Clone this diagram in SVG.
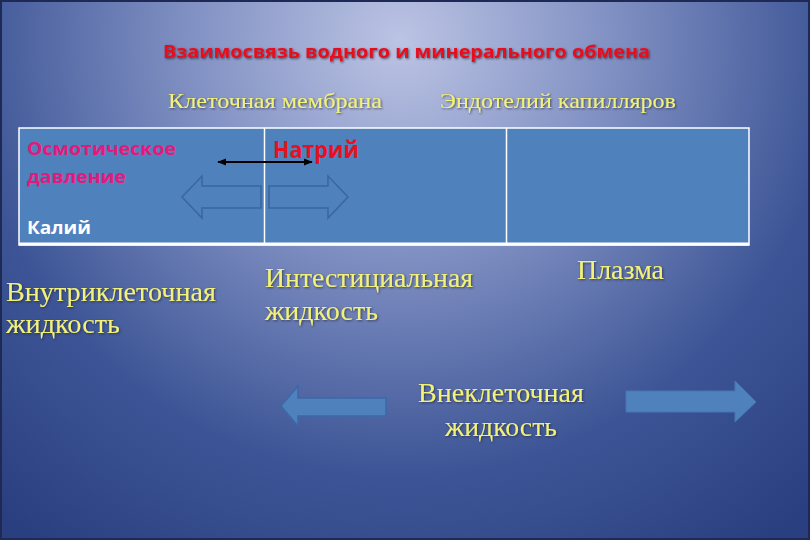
<svg xmlns="http://www.w3.org/2000/svg" width="810" height="540" viewBox="0 0 810 540">
<defs>
<radialGradient id="bg" cx="400" cy="40" r="620" gradientUnits="userSpaceOnUse">
<stop offset="0" stop-color="#bcc4e4"/>
<stop offset="0.35" stop-color="#7f8fc2"/>
<stop offset="0.7" stop-color="#3d5596"/>
<stop offset="1" stop-color="#2a3f80"/>
</radialGradient>
<filter id="sh" x="-5%" y="-20%" width="110%" height="150%">
<feDropShadow dx="1" dy="1" stdDeviation="0.8" flood-color="#202030" flood-opacity="0.7"/>
</filter>
<marker id="ah" viewBox="0 0 10 10" refX="9" refY="5" markerWidth="5" markerHeight="5" orient="auto-start-reverse">
<path d="M0,1 L10,5 L0,9 z" fill="#000"/>
</marker>
</defs>
<style>
.ser{font-family:"Liberation Serif","Times New Roman",serif;fill:#f2f27a;}
.sans{font-family:"Open Sans","Liberation Sans",sans-serif;font-weight:bold;}
</style>
<rect x="0" y="0" width="810" height="540" fill="url(#bg)"/>
<rect x="1" y="1" width="808" height="538" fill="none" stroke="#1e2a55" stroke-width="2"/>

<g id="title">
<text class="sans" x="163" y="58" font-size="17" fill="#e8101e" filter="url(#sh)" textLength="487" lengthAdjust="spacingAndGlyphs">Взаимосвязь водного и минерального обмена</text>
</g>
<g id="label-membrane">
<text class="ser" x="168" y="108" font-size="22" filter="url(#sh)" textLength="214" lengthAdjust="spacingAndGlyphs">Клеточная мембрана</text>
</g>
<g id="label-endothelium">
<text class="ser" x="440" y="108" font-size="22" filter="url(#sh)" textLength="236" lengthAdjust="spacingAndGlyphs">Эндотелий капилляров</text>
</g>

<g id="table">
<rect x="19" y="128" width="730" height="117" fill="#4f81bd" stroke="#ffffff" stroke-width="1.5"/>
<line x1="264.5" y1="128" x2="264.5" y2="245" stroke="#ffffff" stroke-width="1.5"/>
<line x1="506.5" y1="128" x2="506.5" y2="245" stroke="#ffffff" stroke-width="1.5"/>
<line x1="19" y1="244" x2="749" y2="244" stroke="#ffffff" stroke-width="3"/>
</g>

<g id="cell-osmotic">
<text class="sans" x="27" y="155" font-size="18" fill="#e4197a" textLength="149" lengthAdjust="spacingAndGlyphs">Осмотическое</text>
<text class="sans" x="27" y="183" font-size="18" fill="#e4197a" textLength="99" lengthAdjust="spacingAndGlyphs">давление</text>
</g>
<g id="cell-potassium">
<text class="sans" x="27" y="234" font-size="18" fill="#ffffff" textLength="64" lengthAdjust="spacingAndGlyphs">Калий</text>
</g>
<g id="cell-sodium">
<text class="sans" x="273" y="158" font-size="23" fill="#e8101e" textLength="86" lengthAdjust="spacingAndGlyphs">Натрий</text>
</g>

<g id="outline-arrow-left">
<path d="M182,197 L202,176 L202,186 L261,186 L261,208 L202,208 L202,218 Z" fill="#4f81bd" stroke="#3a66a0" stroke-width="1.5"/>
</g>
<g id="outline-arrow-right">
<path d="M348,197 L328,176 L328,186 L269,186 L269,208 L328,208 L328,218 Z" fill="#4f81bd" stroke="#3a66a0" stroke-width="1.5"/>
</g>

<g id="label-intracellular">
<text class="ser" x="6" y="301" font-size="27" filter="url(#sh)" textLength="210" lengthAdjust="spacingAndGlyphs">Внутриклеточная</text>
<text class="ser" x="6" y="333" font-size="27" filter="url(#sh)" textLength="114" lengthAdjust="spacingAndGlyphs">жидкость</text>
</g>
<g id="label-interstitial">
<text class="ser" x="265" y="287" font-size="27" filter="url(#sh)" textLength="208" lengthAdjust="spacingAndGlyphs">Интестициальная</text>
<text class="ser" x="265" y="320" font-size="27" filter="url(#sh)" textLength="113" lengthAdjust="spacingAndGlyphs">жидкость</text>
</g>
<g id="label-plasma">
<text class="ser" x="577" y="279" font-size="27" filter="url(#sh)" textLength="87" lengthAdjust="spacingAndGlyphs">Плазма</text>
</g>
<g id="label-extracellular">
<text class="ser" x="418" y="402" font-size="27" filter="url(#sh)" textLength="166" lengthAdjust="spacingAndGlyphs">Внеклеточная</text>
<text class="ser" x="445" y="436" font-size="27" filter="url(#sh)" textLength="112" lengthAdjust="spacingAndGlyphs">жидкость</text>
</g>

<g id="block-arrow-left">
<path d="M281,406 L298,386 L298,398 L386,398 L386,416 L298,416 L298,426 Z" fill="#4f81bd" stroke="#3d68a8" stroke-width="1.5"/>
</g>
<g id="block-arrow-right">
<path d="M756,402 L735,381 L735,391 L626,391 L626,412 L735,412 L735,422 Z" fill="#4f81bd" stroke="#4777b4" stroke-width="1"/>
</g>

<g id="connectors">
<line x1="218" y1="162" x2="312" y2="162" stroke="#000" stroke-width="1.8" marker-start="url(#ah)" marker-end="url(#ah)"/>
</g>
</svg>
